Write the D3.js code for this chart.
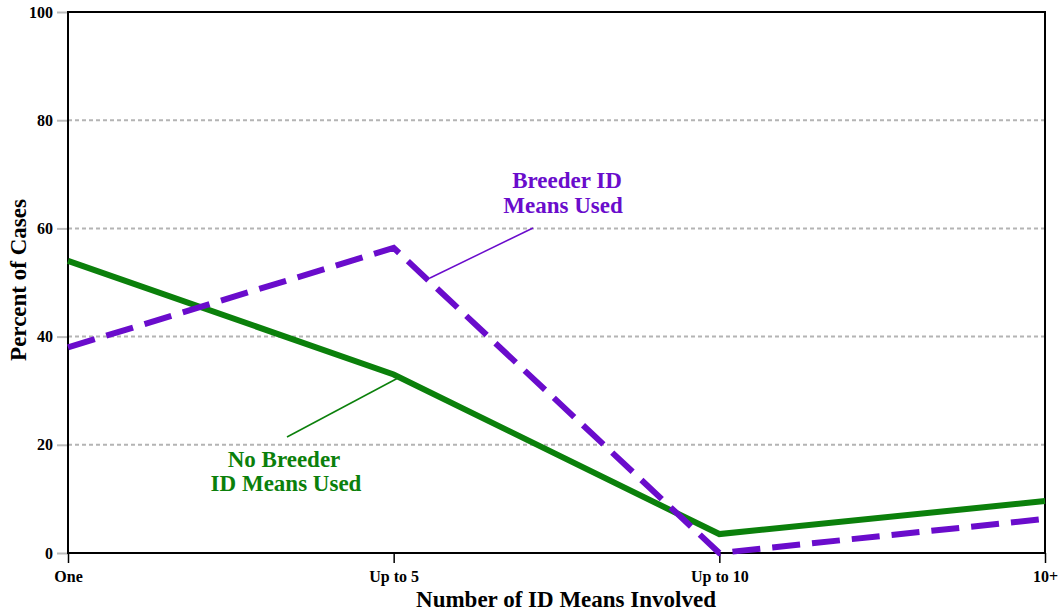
<!DOCTYPE html>
<html>
<head>
<meta charset="utf-8">
<script src="https://cdn.jsdelivr.net/npm/d3@7"></script>
<style>
  body { margin: 0; background: #fff; }
  text { font-family: "Liberation Serif", "DejaVu Serif", serif; font-weight: bold; }
</style>
</head>
<body>
<script>
// categories and series
var categories = ['One', 'Up to 5', 'Up to 10', '10+'];
var noBreeder = [54, 33, 3.5, 9.6];
var breeder = [38, 56.4, 0, 6.3];
var yTicks = [0, 20, 40, 60, 80, 100];

var width = 1064, height = 614;
var margin = {top: 12, right: 19, bottom: 61, left: 68};

var svg = d3.select('body').append('svg')
  .attr('width', width)
  .attr('height', height);

var x = d3.scalePoint()
  .domain(categories)
  .range([margin.left, width - margin.right]);

var y = d3.scaleLinear()
  .domain([0, 100])
  .range([height - margin.bottom, margin.top]);

//dotted gridlines
svg.append('g').selectAll('line')
  .data(yTicks.filter(function(d) { return d > 0 && d < 100; }))
  .enter().append('line')
  .attr('x1', margin.left).attr('x2', width - margin.right)
  .attr('y1', y).attr('y2', y)
  .attr('stroke', '#b4b4b4')
  .attr('stroke-width', 2)
  .attr('stroke-dasharray', '4,3');

//y axis
var yAxis = svg.append('g')
  .attr('transform', 'translate(' + margin.left + ',0)')
  .call(d3.axisLeft(y).tickValues(yTicks).tickSize(11).tickPadding(4));
yAxis.select('.domain').remove();
yAxis.selectAll('.tick line').attr('stroke', '#bbb').attr('stroke-width', 2);
yAxis.selectAll('.tick text')
  .attr('font-size', 16)
  .attr('font-family', '"Liberation Serif", serif')
  .attr('font-weight', 'bold')
  .attr('fill', '#000');

//x axis
var xAxis = svg.append('g')
  .attr('transform', 'translate(0,' + y(0) + ')')
  .call(d3.axisBottom(x).tickSize(10).tickPadding(8));
xAxis.select('.domain').remove();
xAxis.selectAll('.tick line').attr('stroke', '#000').attr('stroke-width', 1.5);
xAxis.selectAll('.tick text')
  .attr('font-size', 16)
  .attr('font-family', '"Liberation Serif", serif')
  .attr('font-weight', 'bold')
  .attr('fill', '#000');

//frame
svg.append('rect')
  .attr('x', margin.left).attr('y', margin.top)
  .attr('width', width - margin.right - margin.left)
  .attr('height', y(0) - margin.top)
  .attr('fill', 'none')
  .attr('stroke', '#000')
  .attr('stroke-width', 2);

var line = d3.line()
  .x(function(d, i) { return x(categories[i]); })
  .y(function(d) { return y(d); });

svg.append('path')
  .datum(noBreeder)
  .attr('d', line)
  .attr('fill', 'none')
  .attr('stroke', '#0b800b')
  .attr('stroke-width', 6);

svg.append('path')
  .datum(breeder)
  .attr('d', line)
  .attr('fill', 'none')
  .attr('stroke', '#6a0ccc')
  .attr('stroke-width', 6)
  .attr('stroke-dasharray', '28,12');

//annotations
svg.append('line')
  .attr('x1', 533).attr('y1', 228).attr('x2', 430).attr('y2', 278)
  .attr('stroke', '#6a0ccc').attr('stroke-width', 1.5);
svg.append('line')
  .attr('x1', 287).attr('y1', 437).attr('x2', 398).attr('y2', 378)
  .attr('stroke', '#0b800b').attr('stroke-width', 1.5);

var purpleLabel = svg.append('text')
  .attr('text-anchor', 'middle')
  .attr('font-size', 23)
  .attr('fill', '#6a0ccc');
purpleLabel.append('tspan').attr('x', 567).attr('y', 188).text('Breeder ID');
purpleLabel.append('tspan').attr('x', 563).attr('y', 213).text('Means Used');

var greenLabel = svg.append('text')
  .attr('text-anchor', 'middle')
  .attr('font-size', 23)
  .attr('fill', '#0b800b');
greenLabel.append('tspan').attr('x', 284).attr('y', 467).text('No Breeder');
greenLabel.append('tspan').attr('x', 286).attr('y', 491).text('ID Means Used');

//axis titles
svg.append('text')
  .attr('x', 566).attr('y', 607)
  .attr('text-anchor', 'middle')
  .attr('font-size', 23)
  .text('Number of ID Means Involved');

svg.append('text')
  .attr('transform', 'translate(26,280) rotate(-90)')
  .attr('text-anchor', 'middle')
  .attr('font-size', 23)
  .text('Percent of Cases');
</script>
</body>
</html>
